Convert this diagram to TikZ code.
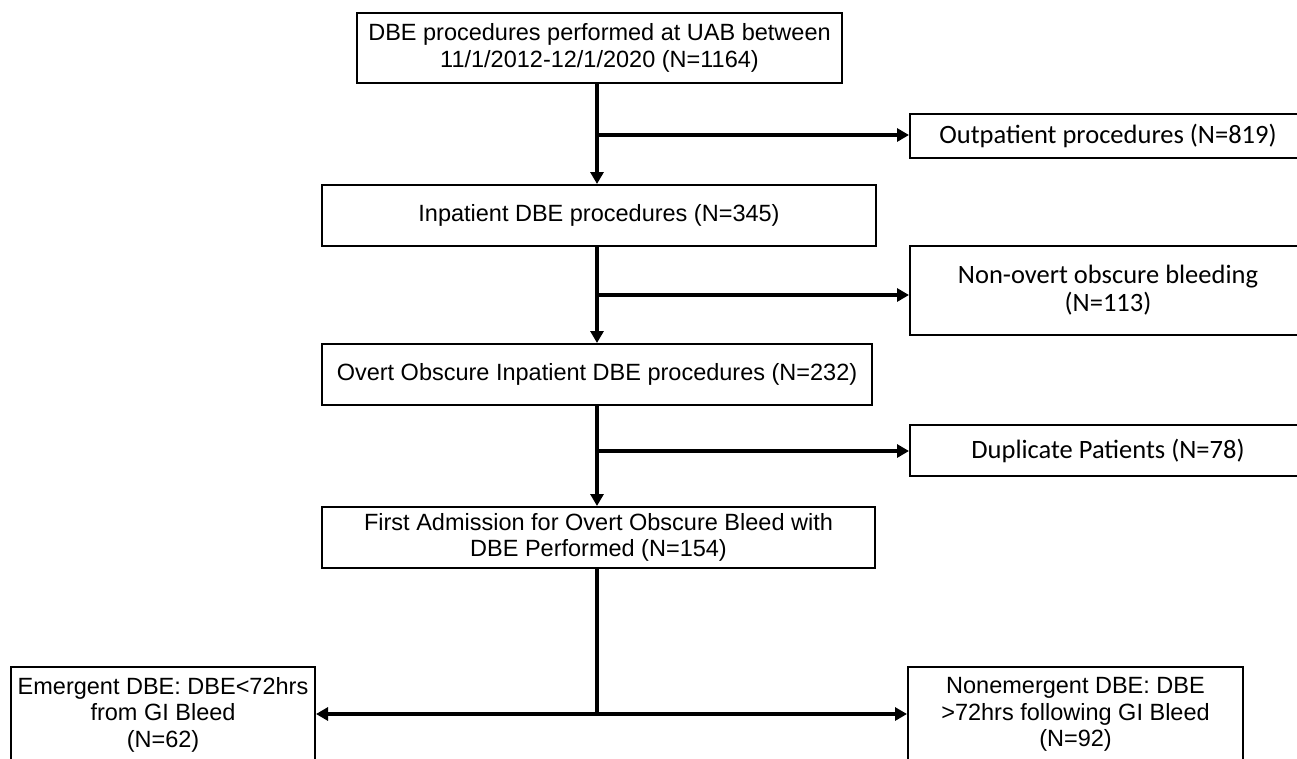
\documentclass[tikz,border=0pt]{standalone}
\usepackage{fontspec}
\setmainfont{Liberation Sans}
\newfontfamily\calfont{Carlito}
\usetikzlibrary{arrows.meta}
\begin{document}
\begin{tikzpicture}[x=1pt,y=-1pt,
  box/.style={draw=black,line width=2pt,fill=white,inner sep=0pt,align=center,
    font=\fontsize{23.5}{26.5}\selectfont},
  sidebox/.style={box,font=\calfont\fontsize{26.5}{28}\selectfont},
  conn/.style={line width=4pt},
  arr/.style={conn,-{Triangle[length=12pt,width=13pt]}}]
\useasboundingbox[fill=white] (0,0) rectangle (1297,758);
% main column
\node[box,minimum width=485pt,minimum height=70pt] (b1) at (599.5,48)
  {DBE procedures performed at UAB between\\11/1/2012-12/1/2020 (N=1164)};
\node[box,minimum width=554pt,minimum height=61pt] (b2) at (599,215.5)
  {Inpatient DBE procedures (N=345)};
\node[box,minimum width=550pt,minimum height=61pt] (b3) at (597,374.5)
  {Overt Obscure Inpatient DBE procedures (N=232)};
\node[box,minimum width=553pt,minimum height=61pt] (b4) at (598.5,537.5)
  {First Admission for Overt Obscure Bleed with\\DBE Performed (N=154)};
% side boxes
\node[sidebox,minimum width=396pt,minimum height=44pt] (out) at (1108,136)
  {Outpatient procedures (N=819)};
\node[sidebox,minimum width=396pt,minimum height=89pt] (nov) at (1108,290.5)
  {Non-overt obscure bleeding\\(N=113)};
\node[sidebox,minimum width=396pt,minimum height=51pt] (dup) at (1108,450.5)
  {Duplicate Patients (N=78)};
% bottom boxes
\node[box,minimum width=304pt,minimum height=95pt] (em) at (163,714.5)
  {Emergent DBE: DBE<72hrs\\from GI Bleed\\(N=62)};
\node[box,minimum width=335pt,minimum height=95pt] (nem) at (1075.5,714.5)
  {Nonemergent DBE: DBE\\>72hrs following GI Bleed\\(N=92)};
% spine
\coordinate (s) at (597,0);
\coordinate (j1) at (597,135);
\coordinate (j2) at (597,295);
\coordinate (j3) at (597,451);
\coordinate (j4) at (597,714);
\draw[arr] (b1.south -| s) -- (b2.north -| s);
\draw[arr] (j1) -- (j1 -| out.west);
\draw[arr] (b2.south -| s) -- (b3.north -| s);
\draw[arr] (j2) -- (j2 -| nov.west);
\draw[arr] (b3.south -| s) -- (b4.north -| s);
\draw[arr] (j3) -- (j3 -| dup.west);
\draw[conn] (b4.south -| s) -- (j4);
\draw[arr] (j4) -- (j4 -| em.east);
\draw[arr] (j4) -- (j4 -| nem.west);
\end{tikzpicture}
\end{document}
